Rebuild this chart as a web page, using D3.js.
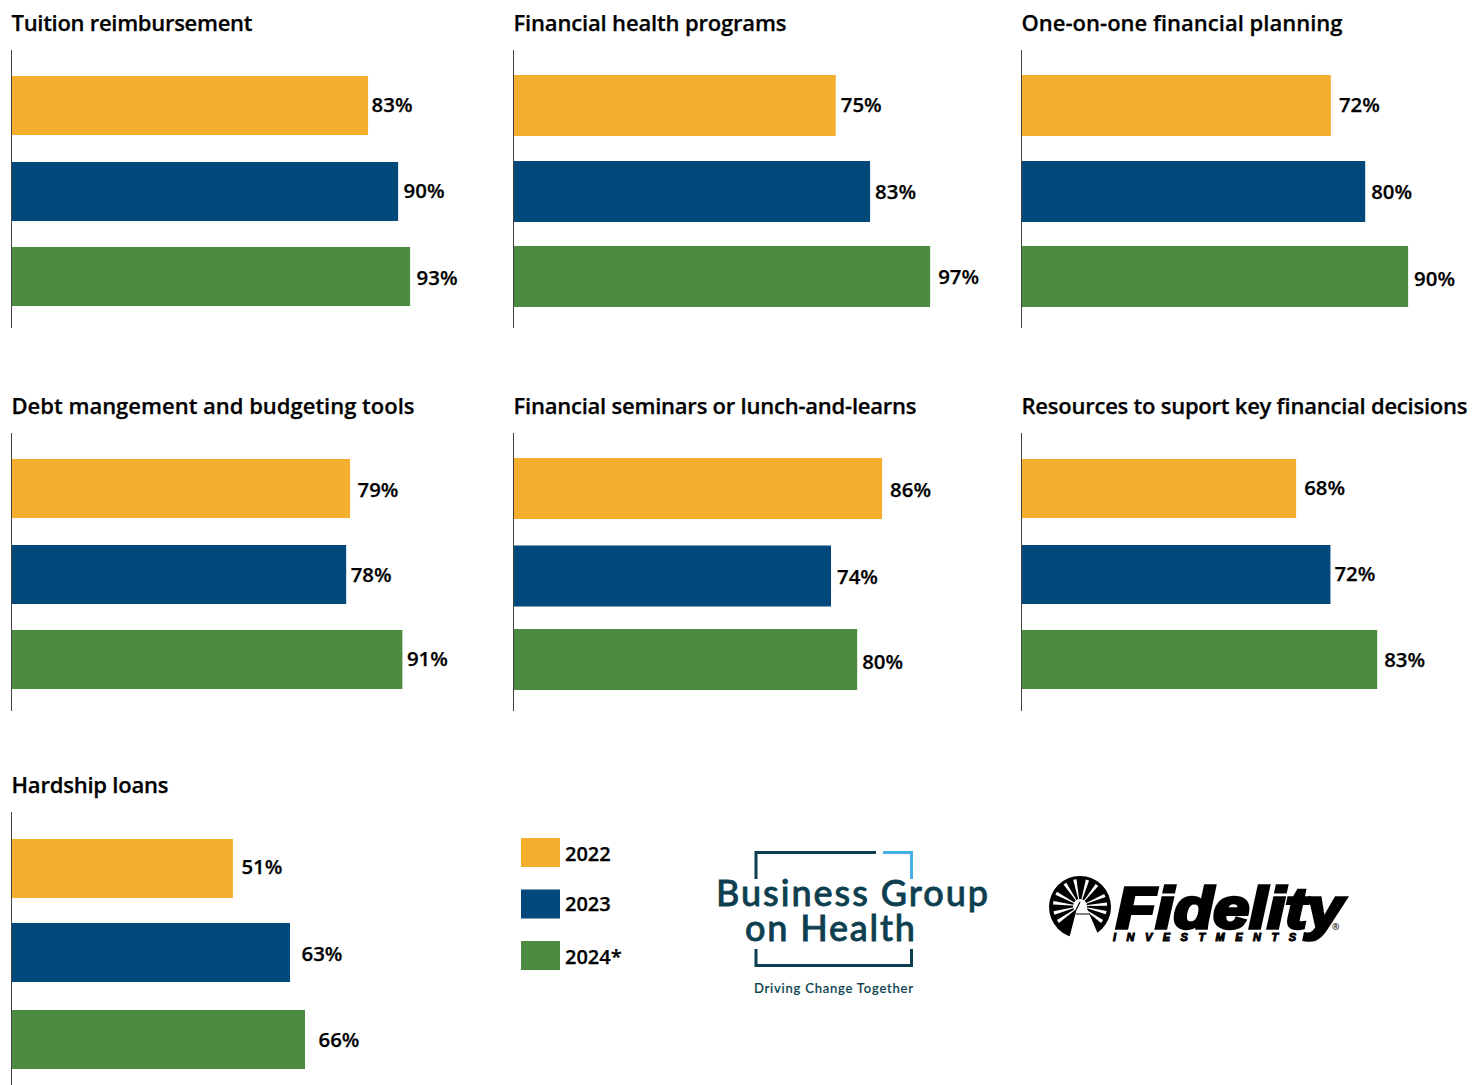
<!DOCTYPE html>
<html><head><meta charset="utf-8">
<style>html,body{margin:0;padding:0;background:#fff}svg{display:block}
text{font-family:"Open Sans",sans-serif;font-weight:600;fill:#000;stroke:#000;stroke-width:.25px}</style>
<script src="https://cdn.jsdelivr.net/npm/d3@7"></script></head><body><svg id="c" width="1473" height="1085"></svg>
<script>
const years=["2022","2023","2024*"];
const colors=["#f5af2e","#02487a","#4d8b40"];
const titles=["Tuition reimbursement","Financial health programs","One-on-one financial planning","Debt mangement and budgeting tools","Financial seminars or lunch-and-learns","Resources to suport key financial decisions","Hardship loans"];
const labels=[[83,90,93],[75,83,97],[72,80,90],[79,78,91],[86,74,80],[68,72,83],[51,63,66]];
// bar lengths as drawn in the picture (the artwork is not perfectly to scale)
const drawn=[[83,90,92.8],[75,83,97],[72,80,90],[78.8,77.9,91],[85.8,73.9,80],[63.9,71.9,82.8],[51.5,64.8,68.3]];

const svg=d3.select("#c");
const x=d3.scaleLinear().domain([0,100]).range([0,429]);
const layout=[
 {x:12,ty:31,tw:241,a:[50,328],b:[76,306],h:59,m:.5,g:[3.5,5.5,6.5],d:[-1,-1,1]},
 {x:514,ty:31,tw:273,a:[50,328],b:[75,307],h:61,m:.5,g:[5,5,8],d:[-1,.5,0]},
 {x:1022,ty:31,tw:321,a:[50,328],b:[75,307],h:61,m:.5,g:[8,6,6],d:[-1,.5,2]},
 {x:12,ty:414,tw:403,a:[433,711],b:[459,689],h:59,m:.5,g:[7.5,4.5,4.5],d:[1,0,-1]},
 {x:514,ty:414,tw:403,a:[433,711],b:[458,690],h:61,m:2,g:[8,6,5],d:[1,1,2]},
 {x:1022,ty:414,tw:446,a:[433,711],b:[459,689],h:59,m:.5,g:[8,4,7],d:[-1,-1,0]},
 {x:12,ty:793,tw:157,a:[812,1085],b:[839,1069],h:59,m:-1.5,g:[8.5,11.5,13.5],d:[-2,1.5,0]}];

layout.forEach((p,i)=>{
 const step=(p.b[1]-p.b[0]-p.h)/2;
 const y=d3.scaleBand().domain(years).range(p.b).paddingInner(1-p.h/step).paddingOuter(0);
 const top=(d,j)=>y(d)+(j===1?p.m:0);
 const g=svg.append("g").attr("class","panel");
 g.append("text").attr("x",p.x-.5).attr("y",p.ty).attr("font-size",22).attr("textLength",p.tw).text(titles[i]);
 g.selectAll("rect").data(years).join("rect")
  .attr("x",p.x).attr("y",top).attr("height",y.bandwidth())
  .attr("width",(d,j)=>x(drawn[i][j])).attr("fill",(d,j)=>colors[j]);
 g.append("line").attr("x1",p.x-.5).attr("x2",p.x-.5).attr("y1",p.a[0]).attr("y2",p.a[1]).attr("stroke","#444").attr("stroke-width",1);
 g.selectAll("text.v").data(years).join("text").attr("class","v")
  .attr("x",(d,j)=>p.x+x(drawn[i][j])+p.g[j]).attr("y",(d,j)=>top(d,j)+y.bandwidth()/2+7+p.d[j])
  .attr("font-size",20.4).text((d,j)=>labels[i][j]+"%");
});

// legend
const ly=d3.scalePoint().domain(years).range([838,941]);
const lg=svg.append("g");
lg.selectAll("rect").data(years).join("rect").attr("x",521).attr("y",d=>ly(d)).attr("width",39).attr("height",29).attr("fill",(d,j)=>colors[j]);
lg.selectAll("text").data(years).join("text").attr("x",565).attr("y",(d,j)=>ly(d)+(j===1?21.5:23)).attr("font-size",20).text(d=>d);

// Business Group on Health logo
const teal="#0d3f50";
const logoText=(s,x0,y0,fs,w,sw)=>b.append("text").attr("x",x0).attr("y",y0).attr("font-size",fs).attr("textLength",w)
 .style("font-family","Lato").style("font-weight",500).style("fill",teal).style("stroke",teal).style("stroke-width",sw).text(s);
const b=svg.append("g");
b.append("path").attr("d","M756 879V852.5H876").attr("fill","none").attr("stroke",teal).attr("stroke-width",3);
b.append("path").attr("d","M883 852.5H911.5V879").attr("fill","none").attr("stroke","#45b1e6").attr("stroke-width",3);
b.append("path").attr("d","M756 949V965.5H911.5V949").attr("fill","none").attr("stroke",teal).attr("stroke-width",3);
logoText("Business Group",716,905.5,36,272,.8);
logoText("on Health",745,941,36,170,.8);
logoText("Driving Change Together",754,993,13,159,.2);

// Fidelity logo
const f=svg.append("g");
const cx=1080,cy=906;
f.append("circle").attr("cx",cx).attr("cy",cy+1).attr("r",31).attr("fill","#000");
f.append("path").attr("d","M1069 939L1078 904L1085 904L1098 934L1100 942H1069Z").attr("fill","#fff");
const rayAngles=[-173,165,145,-152,-124,-101,-74,-51,-23,-4,14,35];
f.selectAll("path.r").data(rayAngles).join("path").attr("class","r").attr("fill","#fff")
 .attr("d",a=>{const t=a*Math.PI/180,n=t+Math.PI/2,l=27,w=1.7;
  return `M${cx} ${cy}L${cx+l*Math.cos(t)+w*Math.cos(n)} ${cy+l*Math.sin(t)+w*Math.sin(n)}L${cx+l*Math.cos(t)-w*Math.cos(n)} ${cy+l*Math.sin(t)-w*Math.sin(n)}Z`;});
f.append("circle").attr("cx",cx).attr("cy",cy).attr("r",7).attr("fill","#fff");
f.append("path").attr("d","M1080 902L1073 916M1076 914H1090").attr("fill","none").attr("stroke","#000").attr("stroke-width",1.2);
f.append("text").attr("x",1116).attr("y",928).attr("font-size",57).style("font-family","Liberation Sans").style("font-weight",700).style("font-style","italic").style("stroke-width",3.4).attr("textLength",227).attr("lengthAdjust","spacingAndGlyphs").text("Fidelity");
f.append("text").attr("x",1113).attr("y",941).attr("font-size",11).style("font-family","Liberation Sans").style("font-weight",700).style("font-style","italic").style("stroke-width",1).attr("textLength",183).text("INVESTMENTS");
f.append("text").attr("x",1332).attr("y",930).attr("font-size",9).style("stroke-width",0).text("®");
</script></body></html>
